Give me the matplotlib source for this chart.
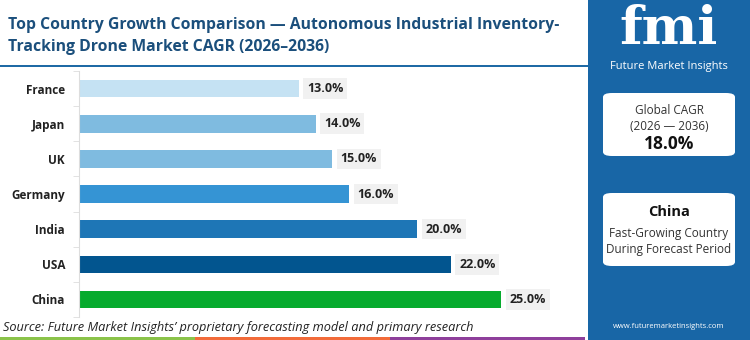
import numpy as np
import matplotlib
matplotlib.use("Agg")
import matplotlib.pyplot as plt
from matplotlib.patches import Rectangle, FancyBboxPatch

# data
countries = ["France", "Japan", "UK", "Germany", "India", "USA", "China"]
cagr = [13.0, 14.0, 15.0, 16.0, 20.0, 22.0, 25.0]
bar_colors = ["#c5e2f3", "#7fbbe0", "#7fbbe0", "#3594d4", "#1e76b6", "#02558f", "#07ab2e"]

title_lines = ["Top Country Growth Comparison \u2014 Autonomous Industrial Inventory-",
               "Tracking Drone Market CAGR (2026\u20132036)"]
global_cagr = "18.0%"
global_period = "(2026 \u2014 2036)"
top_country = "China"
source_txt = "Source: Future Market Insights\u2019 proprietary forecasting model and primary research"

plt.rcParams['font.family'] = ['Open Sans', 'DejaVu Sans']

W, H = 750, 340
fig = plt.figure(figsize=(7.5, 3.4), dpi=100)
fig.patch.set_facecolor("white")


def fx(px):
    return px / W


def fy(py):
    return 1 - py / H


# title
fig.text(fx(8), fy(25), title_lines[0], fontsize=11.3, fontweight="bold", color="#1b4f7c", va="center")
fig.text(fx(8), fy(47), title_lines[1], fontsize=11.3, fontweight="bold", color="#1b4f7c", va="center")
fig.patches.append(Rectangle((0, fy(67)), fx(590), 2.5 / H, transform=fig.transFigure,
                             facecolor="#1f6aa5", edgecolor="none"))

# bottom coloured strip
for x0, c in [(0, "#8bc34a"), (195, "#f26b3a"), (390, "#8e3f9b")]:
    fig.patches.append(Rectangle((fx(x0), 0), fx(195), 3.5 / H, transform=fig.transFigure,
                                 facecolor=c, edgecolor="none"))

# right panel
fig.patches.append(Rectangle((fx(588), 0), fx(162), 1, transform=fig.transFigure,
                             facecolor="#1866a6", edgecolor="none"))
fig.text(fx(669), fy(30), "fmi", fontsize=38, fontweight="bold", color="white",
         ha="center", va="center", family=["DejaVu Serif"])
fig.text(fx(669), fy(66), "Future Market Insights", fontsize=8, color="white", ha="center", va="center")

for (y0, y1) in [(93, 156), (193, 266)]:
    fig.patches.append(FancyBboxPatch((fx(603), fy(y1)), fx(132), (y1 - y0) / H,
                                      boxstyle="round,pad=0,rounding_size=0.012",
                                      transform=fig.transFigure, facecolor="white", edgecolor="none"))
fig.text(fx(669), fy(111), "Global CAGR", fontsize=8.5, color="#333333", ha="center", va="center")
fig.text(fx(669), fy(127), global_period, fontsize=8.5, color="#333333", ha="center", va="center")
fig.text(fx(669), fy(144), global_cagr, fontsize=12.5, fontweight="bold", color="#111111", ha="center", va="center")
fig.text(fx(669), fy(212), top_country, fontsize=10.5, fontweight="bold", color="#111111", ha="center", va="center")
fig.text(fx(669), fy(233), "Fast-Growing Country", fontsize=8.5, color="#333333", ha="center", va="center")
fig.text(fx(669), fy(250), "During Forecast Period", fontsize=8.5, color="#333333", ha="center", va="center")
fig.text(fx(669), fy(327), "www.futuremarketinsights.com", fontsize=5.5, color="white", ha="center", va="center")

# source
fig.text(fx(3), fy(327), source_txt, fontsize=9.2, style="italic", color="#222222", va="center")

# bar chart
ax = fig.add_axes([fx(79), fy(317), fx(490), (317 - 71) / H])
y = np.arange(len(countries))
ax.barh(y, cagr, height=0.5, color=bar_colors)
ax.set_ylim(len(countries) - 0.5, -0.5)
ax.set_xlim(0, 29)
ax.set_yticks(y)
ax.set_yticklabels(countries, fontsize=8.5, fontweight="bold", color="#222222")
ax.set_yticks(np.arange(len(countries) + 1) - 0.5, minor=True)
ax.tick_params(axis="y", which="major", length=0, pad=10)
ax.tick_params(axis="y", which="minor", length=4, color="#dddddd")
ax.set_xticks([])
for s in ["top", "right", "bottom"]:
    ax.spines[s].set_visible(False)
ax.spines["left"].set_color("#dddddd")
ax.patch.set_alpha(0)

for yi, v in zip(y, cagr):
    ax.annotate(f"{v:.1f}%", (v, yi), xytext=(6, 0), textcoords="offset points",
                va="center", ha="left", fontsize=9, fontweight="bold", color="#222222",
                bbox=dict(boxstyle="square,pad=0.3", facecolor="#f1f1f1", edgecolor="none"))

fig.savefig("out.png", dpi=100)
